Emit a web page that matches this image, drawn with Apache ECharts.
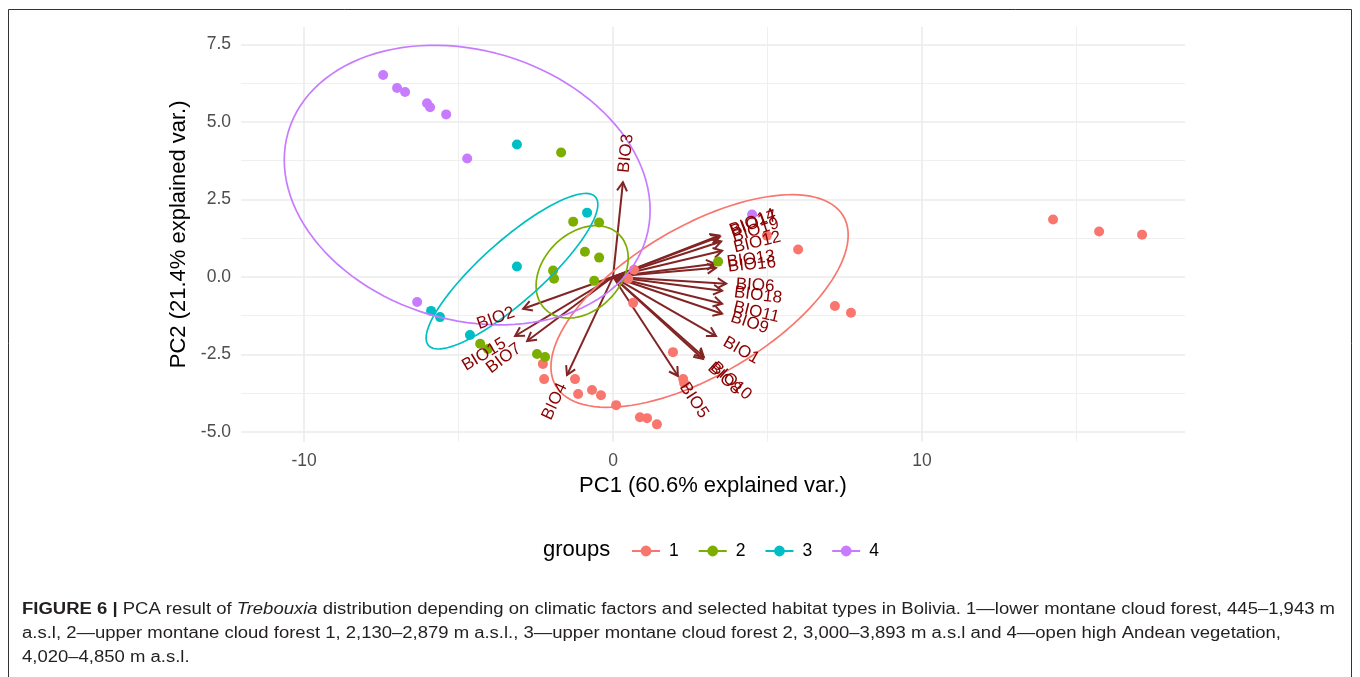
<!DOCTYPE html>
<html><head><meta charset="utf-8">
<script src="https://cdn.jsdelivr.net/npm/echarts@6/dist/echarts.min.js"></script>
<style>html,body{margin:0;padding:0;background:#fff}#c{width:1360px;height:677px}</style>
</head><body><div id="c"></div>
<script>
// ---------------- data ----------------
const groups = ['1', '2', '3', '4'];
const groupColors = ['#F8766D', '#7CAE00', '#00BFC4', '#C77CFF'];

const g1x = [-2.27, -2.23, -1.23, -1.13, -0.68, -0.39, 0.10, 0.87, 1.10, 1.42, 1.94, 2.27, 2.30, 0.68, 0.49, 0.65, 5.99, 4.98, 7.18, 7.70, 14.24, 15.73, 17.12];
const g1y = [-2.81, -3.30, -3.30, -3.78, -3.65, -3.82, -4.14, -4.53, -4.56, -4.76, -2.43, -3.30, -3.43, 0.23, -0.06, -0.84, 0.88, 1.33, -0.94, -1.16, 1.85, 1.46, 1.36];
const g2x = [-1.68, -1.29, -0.45, -0.91, -0.45, -1.94, -1.91, -0.61, 3.40, -4.30, -4.05, -2.46, -2.20];
const g2y = [4.01, 1.78, 1.75, 0.81, 0.62, 0.20, -0.06, -0.13, 0.49, -2.16, -2.33, -2.49, -2.59];
const g3x = [-3.11, -0.84, -3.11, -5.89, -5.60, -4.63];
const g3y = [4.27, 2.07, 0.33, -1.10, -1.30, -1.88];
const g4x = [-7.44, -6.99, -6.73, -6.02, -5.92, -5.40, -4.72, -6.34, 4.50];
const g4y = [6.51, 6.09, 5.96, 5.60, 5.47, 5.24, 3.82, -0.81, 2.01];

const varNames = ['BIO1', 'BIO2', 'BIO3', 'BIO4', 'BIO5', 'BIO6', 'BIO7', 'BIO8', 'BIO9', 'BIO10',
                  'BIO11', 'BIO12', 'BIO13', 'BIO14', 'BIO15', 'BIO16', 'BIO17', 'BIO18', 'BIO19'];
const varX = [3.33, -2.91, 0.32, -1.49, 2.10, 3.66, -2.78, 2.91, 3.53, 2.94, 3.53, 3.53, 3.30, 3.43, -3.17, 3.33, 3.46, 3.53, 3.50];
const varY = [-1.91, -1.03, 3.05, -3.17, -3.20, -0.22, -2.07, -2.65, -1.19, -2.59, -0.87, 0.84, 0.42, 1.33, -1.91, 0.29, 1.30, -0.45, 1.14];

// ellipse per group: centre, half-extent in x and y, correlation
const ellCx = [2.80, -1.00, -3.27, -4.72];
const ellCy = [-0.78, 0.16, 0.18, 2.96];
const ellSx = [4.81, 1.49, 2.78, 5.92];
const ellSy = [3.43, 1.49, 2.51, 4.51];
const ellR  = [0.62, 0.30, 0.86, -0.18];

const xMajor = [-10, 0, 10];
const xMinor = [-5, 5, 15];
const yMajor = [-5, -2.5, 0, 2.5, 5, 7.5];
const yMinor = [-3.75, -1.25, 1.25, 3.75, 6.25];
const xLimits = [-12.04, 18.51];
const yLimits = [-5.32, 8.06];

const xTitle = 'PC1 (60.6% explained var.)';
const yTitle = 'PC2 (21.4% explained var.)';
const legendTitle = 'groups';
const captionBold = 'FIGURE 6 |';
const captionA = ' PCA result of ';
const captionItalic = 'Trebouxia';
const captionB = ' distribution depending on climatic factors and selected habitat types in Bolivia. 1\u2014lower montane cloud forest, 445\u20131,943 m';
const caption2 = 'a.s.l, 2\u2014upper montane cloud forest 1, 2,130\u20132,879 m a.s.l., 3\u2014upper montane cloud forest 2, 3,000\u20133,893 m a.s.l and 4\u2014open high Andean vegetation,';
const caption3 = '4,020\u20134,850 m a.s.l.';

// ---------------- helpers ----------------
const FF = 'Liberation Sans, Arial, Helvetica, sans-serif';
const ctx = document.createElement('canvas').getContext('2d');
function textW(t, size, weight, style) {
  ctx.font = (style || 'normal') + ' ' + (weight || 'normal') + ' ' + size + 'px ' + FF;
  return ctx.measureText(t).width;
}
const gx = [g1x, g2x, g3x, g4x], gy = [g1y, g2y, g3y, g4y];
function ellipsePts(i) {
  const pts = [];
  const s = Math.sqrt(1 - ellR[i] * ellR[i]);
  for (let k = 0; k <= 120; k++) {
    const t = 2 * Math.PI * k / 120;
    pts.push([ellCx[i] + ellSx[i] * Math.cos(t), ellCy[i] + ellSy[i] * (ellR[i] * Math.cos(t) + s * Math.sin(t))]);
  }
  return pts;
}
const arrowColor = '#832424';
const labelSize = 17;

const series = [];
// arrows
series.push({
  type: 'custom', name: 'arrows', silent: true, z: 1,
  data: varX.map((v, i) => [v, varY[i]]),
  renderItem: function (params, api) {
    const p0 = api.coord([0, 0]);
    const p1 = api.coord([api.value(0), api.value(1)]);
    const a = Math.atan2(p1[1] - p0[1], p1[0] - p0[0]);
    const L = 10, A = Math.PI / 6;
    const w1 = [p1[0] - L * Math.cos(a - A), p1[1] - L * Math.sin(a - A)];
    const w2 = [p1[0] - L * Math.cos(a + A), p1[1] - L * Math.sin(a + A)];
    return { type: 'group', children: [
      { type: 'line', shape: { x1: p0[0], y1: p0[1], x2: p1[0], y2: p1[1] }, style: { stroke: arrowColor, lineWidth: 2 } },
      { type: 'polyline', shape: { points: [w1, p1, w2] }, style: { stroke: arrowColor, lineWidth: 2, fill: null } }
    ] };
  }
});
// points
groups.forEach((g, i) => {
  series.push({
    type: 'scatter', name: g, z: 2, symbolSize: 10,
    itemStyle: { color: groupColors[i], opacity: 1 },
    data: gx[i].map((v, k) => [v, gy[i][k]])
  });
});
// ellipses
groups.forEach((g, i) => {
  series.push({
    type: 'line', name: g, z: 3, showSymbol: false, silent: true, smooth: false,
    lineStyle: { color: groupColors[i], width: 1.7 }, itemStyle: { color: groupColors[i] },
    data: ellipsePts(i)
  });
});
// variable labels
series.push({
  type: 'custom', name: 'labels', silent: true, z: 4,
  data: varX.map((v, i) => [v, varY[i]]),
  renderItem: function (params, api) {
    const xv = api.value(0), yv = api.value(1);
    const p = api.coord([xv, yv]);
    const name = varNames[params.dataIndex];
    const w = textW(name, labelSize);
    const pos = xv >= 0;
    return { type: 'text', x: p[0], y: p[1], rotation: Math.atan(yv / xv),
      style: { text: name, x: pos ? 0.25 * w : -0.25 * w, y: 0, align: pos ? 'left' : 'right', verticalAlign: 'middle',
               fill: '#8B0000', fontSize: labelSize, fontFamily: FF } };
  }
});

// caption layout (fit line 1 into the frame width)
const capSize = 16;
const w1 = textW(captionBold, capSize, 'bold') + textW(captionA, capSize) + textW(captionItalic, capSize, 'normal', 'italic') + textW(captionB, capSize);
const capScale = 1313 / w1;
const capStyle = { fill: '#231F20', fontSize: capSize, fontFamily: FF };

const chart = echarts.init(document.getElementById('c'), null, { renderer: 'canvas' });
const gridLine = { color: '#EBEBEB', width: 1.6 };
const minorLine = { color: '#EDEDED', width: 0.9 };
chart.setOption({
  animation: false,
  backgroundColor: '#fff',
  textStyle: { fontFamily: FF },
  grid: { left: 241, top: 27, width: 944, height: 414.7, containLabel: false },
  xAxis: [
    { type: 'value', min: xLimits[0], max: xLimits[1], position: 'bottom',
      axisLine: { show: false }, axisTick: { show: false, customValues: xMajor },
      axisLabel: { customValues: xMajor, color: '#4D4D4D', fontSize: 17.5, margin: 10, fontFamily: FF },
      splitLine: { show: true, lineStyle: gridLine },
      name: xTitle, nameLocation: 'middle', nameGap: 32, nameTextStyle: { fontSize: 22, color: '#000', fontFamily: FF } },
    { type: 'value', min: xLimits[0], max: xLimits[1], position: 'top',
      axisLine: { show: false }, axisTick: { show: false, customValues: xMinor },
      axisLabel: { show: false, customValues: xMinor },
      splitLine: { show: true, lineStyle: minorLine } }
  ],
  yAxis: [
    { type: 'value', min: yLimits[0], max: yLimits[1], position: 'left',
      axisLine: { show: false }, axisTick: { show: false, customValues: yMajor },
      axisLabel: { customValues: yMajor, color: '#4D4D4D', fontSize: 17.5, margin: 10, fontFamily: FF, formatter: v => v.toFixed(1) },
      splitLine: { show: true, lineStyle: gridLine },
      name: yTitle, nameLocation: 'middle', nameGap: 47, nameTextStyle: { fontSize: 22, color: '#000', fontFamily: FF } },
    { type: 'value', min: yLimits[0], max: yLimits[1], position: 'right',
      axisLine: { show: false }, axisTick: { show: false, customValues: yMinor },
      axisLabel: { show: false, customValues: yMinor },
      splitLine: { show: true, lineStyle: minorLine } }
  ],
  legend: {
    data: groups, left: 627, top: 537, orient: 'horizontal',
    itemWidth: 28, itemHeight: 14, itemGap: 20, selectedMode: false,
    icon: 'path://M0,6.1H28V7.9H0Z M14,1.6A5.4,5.4,0,1,1,13.99,1.6Z',
    textStyle: { fontSize: 17.5, color: '#000', fontFamily: FF, padding: [0, 0, 0, 4] }
  },
  graphic: [
    { type: 'rect', shape: { x: 8.5, y: 9.5, width: 1343, height: 720 }, style: { fill: null, stroke: '#333', lineWidth: 1 }, silent: true },
    { type: 'text', x: 543, y: 550, style: { text: legendTitle, fontSize: 22, fill: '#000', fontFamily: FF, verticalAlign: 'middle' } },
    { type: 'text', x: 22, y: 610, scaleX: capScale, style: {
        text: '{b|' + captionBold + '}' + captionA + '{i|' + captionItalic + '}' + captionB,
        verticalAlign: 'middle', fill: '#231F20', fontSize: capSize, fontFamily: FF,
        rich: { b: { fontWeight: 'bold', fontSize: capSize, fontFamily: FF, fill: '#231F20' },
                i: { fontStyle: 'italic', fontSize: capSize, fontFamily: FF, fill: '#231F20' } } } },
    { type: 'text', x: 22, y: 634, scaleX: capScale, style: Object.assign({ text: caption2, verticalAlign: 'middle' }, capStyle) },
    { type: 'text', x: 22, y: 658, scaleX: capScale, style: Object.assign({ text: caption3, verticalAlign: 'middle' }, capStyle) }
  ],
  series: series
});
</script></body></html>
